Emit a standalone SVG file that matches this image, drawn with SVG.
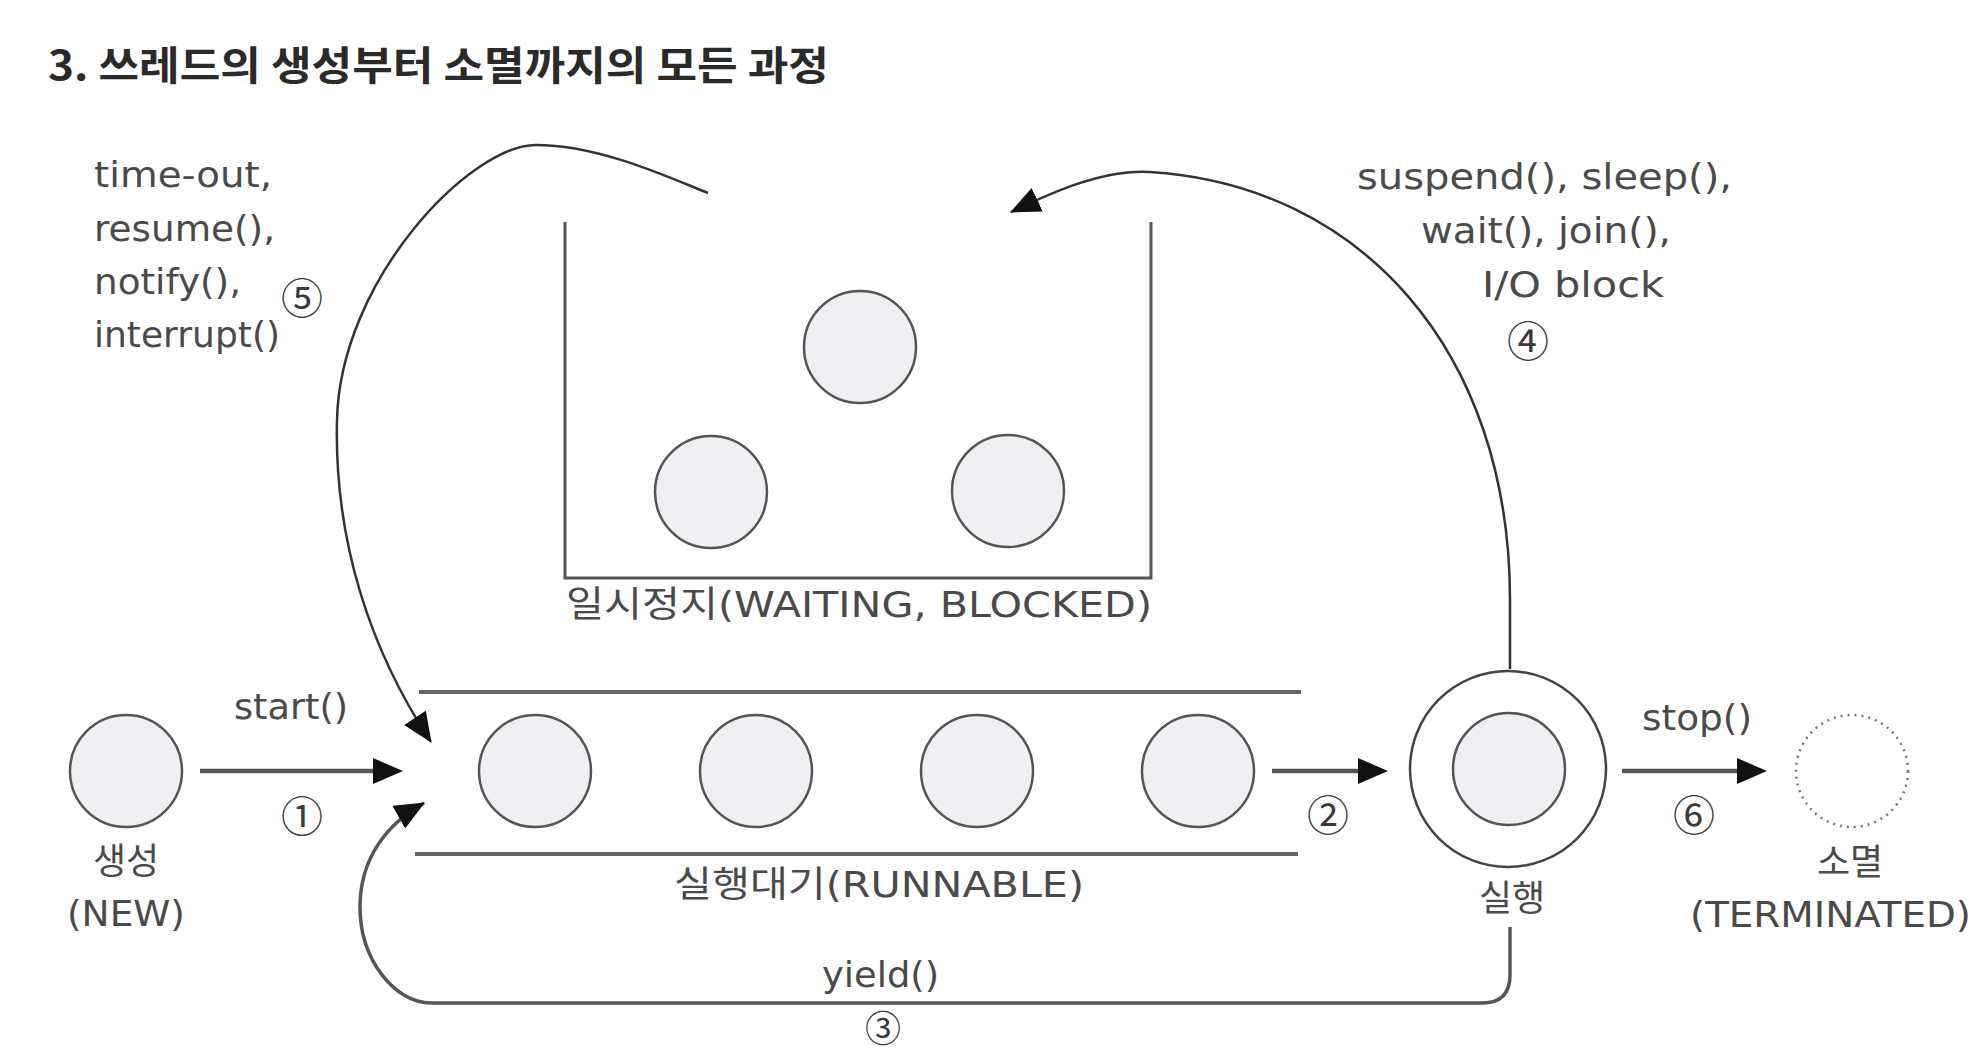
<svg xmlns="http://www.w3.org/2000/svg" width="1988" height="1054" viewBox="0 0 1988 1054">
<defs>
<style>
.circ{fill:#eef0f3;stroke:#555;stroke-width:2.5}
.box{fill:none;stroke:#666;stroke-width:4}
.wbox{fill:none;stroke:#555;stroke-width:3}
.arrow{fill:none;stroke:#555;stroke-width:4.5;marker-end:url(#ahs)}
.curve{fill:none;stroke:#333;stroke-width:2.5;marker-end:url(#ahc)}
.yield{fill:none;stroke:#555;stroke-width:3.5;marker-end:url(#ahc)}
.lbl{font-family:"DejaVu Sans","Noto Sans CJK KR",sans-serif;font-size:36px;fill:#4a4a4a}
.num{font-family:"Noto Sans CJK KR",sans-serif;font-size:42px;fill:#3a3a3a;text-anchor:middle;dominant-baseline:central}
.title{font-family:"Noto Sans CJK KR",sans-serif;font-size:40px;font-weight:700;fill:#2a2a2a}
</style>
<marker id="ahs" markerUnits="userSpaceOnUse" viewBox="0 0 30 26" markerWidth="30" markerHeight="26" refX="5" refY="13" orient="auto"><path d="M0,0 L30,13 L0,26 Z" fill="#111"/></marker>
<marker id="ahc" markerUnits="userSpaceOnUse" viewBox="0 0 30 26" markerWidth="30" markerHeight="26" refX="29" refY="13" orient="auto"><path d="M0,0 L30,13 L0,26 Z" fill="#111"/></marker>
</defs>
<rect width="1988" height="1054" fill="#fff"/>
<g id="title"><text class="title" x="48" y="80" textLength="781" lengthAdjust="spacingAndGlyphs">3. 쓰레드의 생성부터 소멸까지의 모든 과정</text></g>

<g id="node-waiting">
<path class="wbox" d="M565,222 L565,578 L1151,578 L1151,222"/>
<circle class="circ" cx="860" cy="347" r="56"/>
<circle class="circ" cx="711" cy="492" r="56"/>
<circle class="circ" cx="1008" cy="491" r="56"/>
<text class="lbl" x="566" y="617" textLength="586" lengthAdjust="spacingAndGlyphs">일시정지(WAITING, BLOCKED)</text>
</g>

<g id="node-new">
<circle class="circ" cx="126" cy="771" r="56"/>
<text class="lbl" x="126" y="874" text-anchor="middle">생성</text>
<text class="lbl" x="67" y="926" textLength="118" lengthAdjust="spacingAndGlyphs">(NEW)</text>
</g>

<g id="node-runnable">
<line class="box" x1="419" y1="692" x2="1301" y2="692"/>
<line class="box" x1="415" y1="854" x2="1298" y2="854"/>
<circle class="circ" cx="535" cy="771" r="56"/>
<circle class="circ" cx="756" cy="771" r="56"/>
<circle class="circ" cx="977" cy="771" r="56"/>
<circle class="circ" cx="1198" cy="771" r="56"/>
<text class="lbl" x="674" y="897" textLength="410" lengthAdjust="spacingAndGlyphs">실행대기(RUNNABLE)</text>
</g>

<g id="node-running">
<circle cx="1508" cy="769" r="98" fill="#fff" stroke="#444" stroke-width="2.5"/>
<circle class="circ" cx="1509" cy="769" r="56"/>
<text class="lbl" x="1512" y="911" text-anchor="middle">실행</text>
</g>

<g id="node-terminated">
<circle cx="1852" cy="771" r="56" fill="none" stroke="#777" stroke-width="2.5" stroke-dasharray="2 5"/>
<text class="lbl" x="1850" y="875" text-anchor="middle">소멸</text>
<text class="lbl" x="1690" y="927" textLength="281" lengthAdjust="spacingAndGlyphs">(TERMINATED)</text>
</g>

<g id="connectors">
<path class="arrow" d="M200,771 L378,771"/>
<path class="arrow" d="M1272,771 L1363,771"/>
<path class="arrow" d="M1622,771 L1742,771"/>
<path class="curve" d="M1510,669 L1510,600 C1510,350 1360,185 1150,172 C1100,169 1045,196 1011,212"/>
<path class="curve" d="M708,193 C670,178 600,145 536,145 C470,145 340,280 337,420 C334,540 370,650 431,742"/>
<path class="yield" d="M1510,927 L1510,975 Q1510,1003 1482,1003 L431,1003 C395,1003 360,960 360,907 C360,860 385,825 424,803"/>
</g>

<g id="connector-labels">
<text class="lbl" x="234" y="719" textLength="114" lengthAdjust="spacingAndGlyphs">start()</text>
<text class="num" x="302" y="813">①</text>
<text class="num" x="1328" y="812">②</text>
<text class="lbl" x="822" y="987" textLength="117" lengthAdjust="spacingAndGlyphs">yield()</text>
<text class="num" x="883" y="1026" style="font-size:36px">③</text>
<text class="lbl" x="1357" y="189" textLength="375" lengthAdjust="spacingAndGlyphs">suspend(), sleep(),</text>
<text class="lbl" x="1421" y="243" textLength="250" lengthAdjust="spacingAndGlyphs">wait(), join(),</text>
<text class="lbl" x="1482" y="297" textLength="182" lengthAdjust="spacingAndGlyphs">I/O block</text>
<text class="num" x="1528" y="338">④</text>
<text class="lbl" x="94" y="187" textLength="178" lengthAdjust="spacingAndGlyphs">time-out,</text>
<text class="lbl" x="94" y="241" textLength="181" lengthAdjust="spacingAndGlyphs">resume(),</text>
<text class="lbl" x="94" y="294" textLength="147" lengthAdjust="spacingAndGlyphs">notify(),</text>
<text class="lbl" x="94" y="347" textLength="186" lengthAdjust="spacingAndGlyphs">interrupt()</text>
<text class="num" x="302" y="295">⑤</text>
<text class="lbl" x="1642" y="730" textLength="110" lengthAdjust="spacingAndGlyphs">stop()</text>
<text class="num" x="1694" y="812">⑥</text>
</g>
</svg>
